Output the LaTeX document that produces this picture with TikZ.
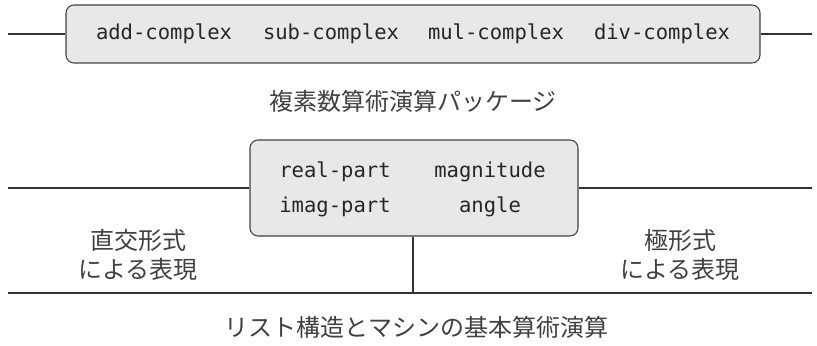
\documentclass[tikz,border=0pt]{standalone}
\usepackage{fontspec}
\setmonofont{DejaVu Sans Mono}
\newfontfamily\jpfont{Noto Sans CJK JP}

\begin{document}
\begin{tikzpicture}[x=0.75pt, y=-0.75pt,
  barrier/.style={draw=black!75, fill=black!9, rounded corners=6pt, line width=0.8pt},
  opname/.style={font=\ttfamily\fontsize{15.4}{18}\selectfont, text=black!85},
  jlabel/.style={font=\jpfont\fontsize{18}{22}\selectfont, text=black!75},
  wall/.style={draw=black!80, line width=0.8pt}]
\useasboundingbox (0,0) rectangle (817,346);

% top layer
\node [barrier, minimum width=520.5pt, minimum height=43.5pt] (top) at (413,34) {};
\node [opname] (add) at (164,34) {add-complex};
\node [opname] (sub) at (331,34) {sub-complex};
\node [opname] (mul) at (496,34) {mul-complex};
\node [opname] (div) at (662,34) {div-complex};
\coordinate (tl) at (8,34);
\coordinate (tr) at (812,34);
\draw [wall] (tl) -- (top.west);
\draw [wall] (top.east) -- (tr);

\node [jlabel] (pkg) at (413,101) {複素数算術演算パッケージ};

% middle layer
\node [barrier, minimum width=246pt, minimum height=72pt] (mid) at (414,188) {};
\node [opname] (re) at (335,172) {real-part};
\node [opname] (mag) at (490,172) {magnitude};
\node [opname] (im) at (335,207) {imag-part};
\node [opname] (ang) at (490,207) {angle};
\coordinate (ml) at (8,188);
\coordinate (mr) at (812,188);
\draw [wall] (ml) -- (mid.west);
\draw [wall] (mid.east) -- (mr);

\node [jlabel, align=center] (rect) at (138,255) {直交形式\\による表現};
\node [jlabel, align=center] (polar) at (680,255) {極形式\\による表現};

% bottom layer
\coordinate (bl) at (8,293);
\coordinate (br) at (812,293);
\coordinate (foot) at (413,293);
\draw [wall] (bl) -- (br);
\draw [wall] (mid.south -| foot) -- (foot);

\node [jlabel] (base) at (416,327) {リスト構造とマシンの基本算術演算};
\end{tikzpicture}
\end{document}
